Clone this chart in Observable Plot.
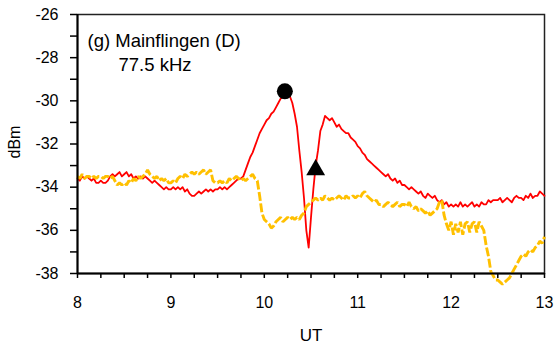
<!DOCTYPE html>
<html>
<head>
<meta charset="utf-8">
<script src="https://cdn.jsdelivr.net/npm/d3@7"></script>
<script src="https://cdn.jsdelivr.net/npm/@observablehq/plot@0.6"></script>
<style>
  html, body { margin: 0; padding: 0; background: #fff; }
  #chart { width: 556px; height: 347px; }
</style>
</head>
<body>
<div id="chart"></div>
<script>
// Sampling grid of the two traces (UT hours)
const tStart = 8;
const tStep = 0.025;

// Mainflingen 77.5 kHz, event day (red), dBm
const redValues = [
  -33.6,-33.7,-33.5,-33.6,-33.5,-33.6,-33.7,-33.6,-33.8,-33.8,
  -33.7,-33.8,-33.8,-33.7,-33.5,-33.4,-33.5,-33.4,-33.3,-33.5,
  -33.4,-33.3,-33.5,-33.4,-33.6,-33.5,-33.6,-33.5,-33.6,-33.5,
  -33.6,-33.7,-33.8,-33.7,-33.8,-33.9,-34.0,-34.1,-34.0,-34.1,
  -34.1,-34.0,-34.1,-34.0,-34.1,-34.0,-34.2,-34.1,-34.3,-34.4,
  -34.4,-34.3,-34.2,-34.3,-34.2,-34.1,-34.2,-34.1,-34.2,-34.1,
  -34.1,-34.0,-34.1,-34.0,-34.1,-34.0,-33.9,-33.8,-33.7,-33.6,
  -33.6,-33.5,-33.2,-32.9,-32.6,-32.4,-32.1,-31.8,-31.5,-31.3,
  -31.1,-30.9,-30.8,-30.6,-30.5,-30.3,-30.1,-29.9,-29.8,-29.7,
  -29.7,-29.8,-30.1,-30.6,-31.2,-32.3,-33.3,-34.5,-36.0,-36.8,
  -35.4,-34.1,-33.0,-32.3,-31.4,-31.1,-30.7,-30.8,-30.9,-30.8,
  -31.0,-31.2,-31.1,-31.3,-31.4,-31.5,-31.5,-31.7,-31.8,-31.9,
  -32.1,-32.2,-32.4,-32.5,-32.7,-32.8,-32.9,-33.0,-33.1,-33.2,
  -33.3,-33.4,-33.5,-33.4,-33.6,-33.7,-33.6,-33.8,-33.7,-33.9,
  -33.9,-34.0,-34.1,-34.0,-34.1,-34.2,-34.3,-34.2,-34.4,-34.5,
  -34.3,-34.4,-34.5,-34.4,-34.6,-34.7,-34.6,-34.8,-34.7,-34.9,
  -34.8,-34.9,-34.8,-34.9,-34.7,-34.9,-34.8,-34.9,-34.8,-34.7,
  -34.9,-34.8,-34.9,-34.7,-34.8,-34.8,-34.6,-34.7,-34.6,-34.6,
  -34.6,-34.5,-34.7,-34.6,-34.5,-34.6,-34.7,-34.5,-34.4,-34.5,
  -34.5,-34.6,-34.4,-34.5,-34.3,-34.5,-34.4,-34.4,-34.2,-34.3,
  -34.4
];

// Reference (quiet) day (yellow, dashed), dBm
const yellowValues = [
  -33.5,-33.6,-33.4,-33.6,-33.5,-33.5,-33.6,-33.5,-33.6,-33.5,
  -33.5,-33.6,-33.5,-33.5,-33.6,-33.5,-33.7,-33.9,-33.8,-33.9,
  -33.8,-33.9,-33.7,-33.8,-33.6,-33.7,-33.5,-33.6,-33.5,-33.4,
  -33.2,-33.4,-33.5,-33.6,-33.5,-33.7,-33.6,-33.7,-33.6,-33.8,
  -33.8,-33.7,-33.8,-33.6,-33.5,-33.6,-33.4,-33.5,-33.4,-33.3,
  -33.4,-33.3,-33.4,-33.3,-33.2,-33.4,-33.3,-33.2,-33.7,-33.8,
  -33.8,-33.7,-33.8,-33.7,-33.8,-33.6,-33.7,-33.6,-33.5,-33.6,
  -33.7,-33.6,-33.7,-33.6,-33.5,-33.4,-33.6,-33.7,-34.4,-35.2,
  -35.5,-35.6,-35.7,-35.9,-35.8,-35.6,-35.5,-35.4,-35.6,-35.5,
  -35.4,-35.5,-35.4,-35.5,-35.4,-35.5,-35.3,-35.2,-34.9,-34.8,
  -34.7,-34.6,-34.5,-34.6,-34.5,-34.6,-34.4,-34.5,-34.6,-34.5,
  -34.6,-34.5,-34.4,-34.5,-34.6,-34.4,-34.5,-34.5,-34.4,-34.5,
  -34.4,-34.5,-34.3,-34.2,-34.4,-34.5,-34.6,-34.7,-34.6,-34.8,
  -34.8,-34.9,-34.8,-34.7,-34.8,-34.9,-34.8,-34.7,-34.9,-34.8,
  -34.8,-34.9,-34.7,-34.9,-35.0,-34.9,-35.1,-35.0,-35.1,-35.2,
  -35.1,-35.3,-35.2,-35.1,-35.0,-34.7,-34.6,-35.3,-35.7,-36.0,
  -35.6,-36.2,-35.7,-36.1,-35.6,-36.2,-35.7,-35.6,-36.1,-35.7,
  -35.6,-36.1,-35.6,-35.8,-36.0,-36.7,-37.2,-37.9,-38.1,-38.3,
  -38.3,-38.4,-38.5,-38.4,-38.3,-38.2,-38.0,-37.8,-37.6,-37.4,
  -37.2,-37.1,-37.2,-37.0,-36.9,-37.0,-36.8,-36.7,-36.5,-36.6,
  -36.3
];

// Markers: circle at the peak, triangle on the recovery
const circleMarker = [{t: 10.22, v: -29.56}];
const triangleMarker = [{t: 10.55, v: -33.2}];

// Tick values
const xTicks = [8, 9, 10, 11, 12, 13];
const xMinorTicks = [8.25, 8.5, 8.75, 9.25, 9.5, 9.75, 10.25, 10.5, 10.75, 11.25, 11.5, 11.75, 12.25, 12.5, 12.75];
const yTicks = [-38, -36, -34, -32, -30, -28, -26];
const yMinorTicks = [-37, -35, -33, -31, -29, -27];

const titleLines = ["(g) Mainflingen (D)", "77.5 kHz"];
const xLabel = "UT";
const yLabel = "dBm";

const red = redValues.map((v, i) => ({t: tStart + i * tStep, v}));
const yellow = yellowValues.map((v, i) => ({t: tStart + i * tStep, v}));

const font = "'Liberation Sans', Arial, Helvetica, sans-serif";

const chart = Plot.plot({
  width: 556,
  height: 347,
  marginLeft: 77,
  marginRight: 12,
  marginTop: 14,
  marginBottom: 74,
  style: {fontFamily: font, fontSize: "16px", color: "black", background: "white", overflow: "visible"},
  x: {domain: [8, 13]},
  y: {domain: [-38, -26]},
  marks: [
    Plot.frame({stroke: "#222", strokeWidth: 1.5}),
    Plot.line(red, {x: "t", y: "v", stroke: "#ff0000", strokeWidth: 1.8}),
    Plot.line(yellow, {x: "t", y: "v", stroke: "#ffc000", strokeWidth: 2.9, strokeDasharray: "9,2.5", strokeLinecap: "butt", strokeLinejoin: "miter"}),
    Plot.dot(circleMarker, {x: "t", y: "v", r: 8, fill: "black", stroke: "none"}),
    Plot.dot(triangleMarker, {x: "t", y: "v", symbol: "triangle", r: 7, fill: "black", stroke: "none"}),
    Plot.axisY(yMinorTicks, {tickSize: 7, strokeWidth: 1.5, text: null, label: null}),
    Plot.axisY(yTicks, {tickSize: 7, tickPadding: 12, strokeWidth: 1.5, fontSize: 16, tickFormat: d => String(d), label: null}),
    Plot.axisX(xMinorTicks, {tickSize: 5, strokeWidth: 1.5, text: null, label: null}),
    Plot.axisX(xTicks, {tickSize: 5, tickPadding: 18, strokeWidth: 1.5, fontSize: 16, tickFormat: d => String(d), label: null}),
    Plot.ruleX([8], {stroke: "black", strokeWidth: 2}),
    Plot.ruleY([-38], {stroke: "black", strokeWidth: 2}),
    Plot.text([titleLines[0]], {frameAnchor: "top-left", textAnchor: "start", lineAnchor: "top", dx: 10, dy: 19, fontSize: 18.5, fill: "black"}),
    Plot.text([titleLines[1]], {frameAnchor: "top-left", textAnchor: "start", lineAnchor: "top", dx: 41, dy: 43, fontSize: 18.5, fill: "black"}),
    Plot.text([xLabel], {frameAnchor: "bottom", textAnchor: "middle", lineAnchor: "middle", dy: 62, fontSize: 17, fill: "black"}),
    Plot.text([yLabel], {frameAnchor: "left", textAnchor: "middle", lineAnchor: "middle", dx: -63, dy: -2, rotate: -90, fontSize: 16, fill: "black"})
  ]
});

document.getElementById("chart").appendChild(chart);
</script>
</body>
</html>
